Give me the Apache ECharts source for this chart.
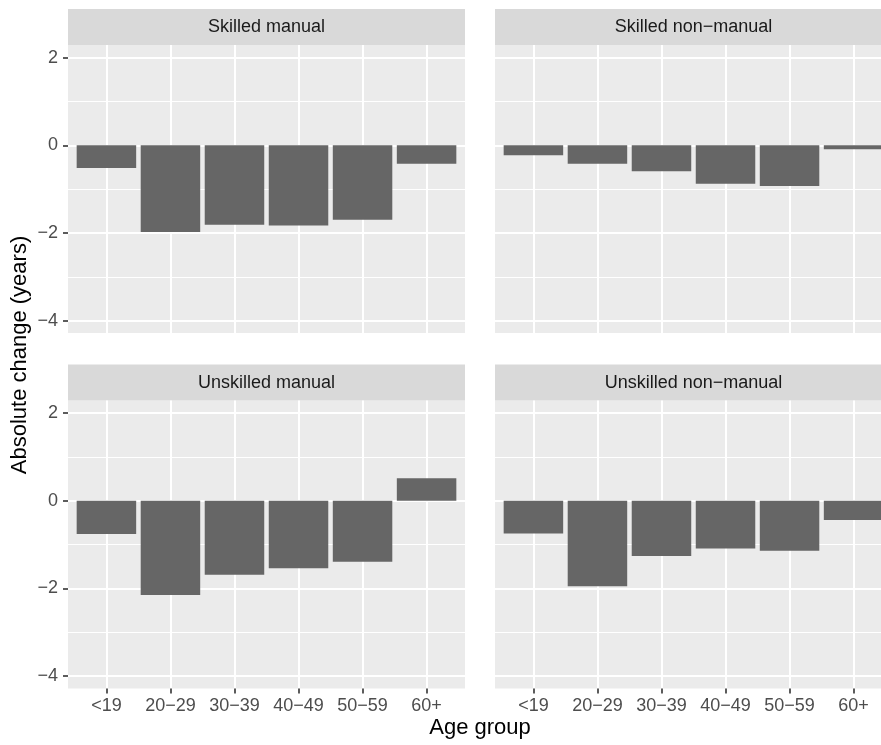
<!DOCTYPE html>
<html>
<head>
<meta charset="utf-8">
<script src="https://cdn.jsdelivr.net/npm/echarts@6/dist/echarts.min.js"></script>
<style>
html,body{margin:0;padding:0;background:#fff;}
#chart{width:881px;height:745px;}
</style>
</head>
<body>
<div id="chart"></div>
<script>
// ---- data ----
const ageGroups = ['<19', '20\u221229', '30\u221239', '40\u221249', '50\u221259', '60+'];
const xPositions = [1, 2, 3, 4, 5, 6];
const panelTitles = ['Skilled manual', 'Skilled non\u2212manual', 'Unskilled manual', 'Unskilled non\u2212manual'];
const skilledManual = [-0.52, -1.98, -1.81, -1.83, -1.70, -0.42];
const skilledNonManual = [-0.23, -0.42, -0.59, -0.88, -0.93, -0.09];
const unskilledManual = [-0.76, -2.15, -1.69, -1.54, -1.39, 0.51];
const unskilledNonManual = [-0.75, -1.95, -1.26, -1.09, -1.14, -0.44];
const yMajorTicks = [-4, -2, 0, 2];
const yMinorTicks = [-3, -1, 1];
const xTitle = 'Age group';
const yTitle = 'Absolute change (years)';

const panelValues = [skilledManual, skilledNonManual, unskilledManual, unskilledNonManual];

// ---- layout ----
const FONT = '"Liberation Sans", Arial, Helvetica, sans-serif';
const panels = [
  {left: 68, top: 45, width: 397, height: 288, showX: false, showY: true},
  {left: 495, top: 45, width: 397, height: 288, showX: false, showY: false},
  {left: 68, top: 400.4, width: 397, height: 288, showX: true, showY: true},
  {left: 495, top: 400.4, width: 397, height: 288, showX: true, showY: false}
];
const STRIP_H = 36;
const Y_MIN = -4.28, Y_MAX = 2.286;
const X_MIN = 0.4, X_MAX = 6.6;

const grids = [], xAxes = [], yAxes = [], series = [], graphics = [];
panels.forEach((p, i) => {
  grids.push({left: p.left, top: p.top, width: p.width, height: p.height,
    show: true, backgroundColor: '#EBEBEB', borderWidth: 0, containLabel: false, outerBoundsMode: 'none'});
  xAxes.push({
    type: 'value', gridIndex: i, min: X_MIN, max: X_MAX, position: 'bottom',
    axisLine: {show: false, onZero: false},
    axisTick: {show: p.showX, customValues: xPositions, length: 5, lineStyle: {color: '#333333', width: 1.6}},
    axisLabel: {show: p.showX, customValues: xPositions, margin: 9, color: '#4D4D4D', fontSize: 18, fontFamily: FONT,
      formatter: v => ageGroups[Math.round(v) - 1]},
    splitLine: {show: true, lineStyle: {color: '#FFFFFF', width: 2}}
  });
  // minor grid lines
  yAxes.push({
    type: 'value', gridIndex: i, min: Y_MIN, max: Y_MAX, position: 'right',
    axisLine: {show: false, onZero: false},
    axisTick: {show: false, customValues: yMinorTicks},
    axisLabel: {show: false, customValues: yMinorTicks},
    splitLine: {show: true, lineStyle: {color: '#FFFFFF', width: 1}}
  });
  // major
  yAxes.push({
    type: 'value', gridIndex: i, min: Y_MIN, max: Y_MAX, position: 'left',
    axisLine: {show: false, onZero: false},
    axisTick: {show: p.showY, customValues: yMajorTicks, length: 5, lineStyle: {color: '#333333', width: 1.6}},
    axisLabel: {show: p.showY, customValues: yMajorTicks, margin: 10, color: '#4D4D4D', fontSize: 18, fontFamily: FONT,
      formatter: v => String(v).replace('-', '\u2212')},
    splitLine: {show: true, lineStyle: {color: '#FFFFFF', width: 2}}
  });
  series.push({
    type: 'bar', xAxisIndex: i, yAxisIndex: i * 2 + 1,
    data: xPositions.map((x, k) => [x, panelValues[i][k]]),
    barWidth: 59.5,
    itemStyle: {color: '#666666'},
    emphasis: {disabled: true},
    silent: true
  });
  // strip
  graphics.push({type: 'rect', shape: {x: p.left, y: p.top - STRIP_H, width: p.width, height: STRIP_H},
    style: {fill: '#D9D9D9'}, silent: true});
  graphics.push({type: 'text', x: p.left + p.width / 2, y: p.top - STRIP_H / 2 + 0.5,
    style: {text: panelTitles[i], fill: '#1A1A1A', font: '18px ' + FONT, textAlign: 'center', textVerticalAlign: 'middle'},
    silent: true});
});

graphics.push({type: 'text', x: 480, y: 728,
  style: {text: xTitle, fill: '#000000', font: '22px ' + FONT, textAlign: 'center', textVerticalAlign: 'middle'}});
graphics.push({type: 'text', x: 20, y: 355, rotation: Math.PI / 2,
  style: {text: yTitle, fill: '#000000', font: '22px ' + FONT, textAlign: 'center', textVerticalAlign: 'middle'}});

const chart = echarts.init(document.getElementById('chart'), null, {renderer: 'canvas'});
chart.setOption({
  animation: false,
  backgroundColor: '#FFFFFF',
  grid: grids,
  xAxis: xAxes,
  yAxis: yAxes,
  series: series,
  graphic: graphics
});
</script>
</body>
</html>
